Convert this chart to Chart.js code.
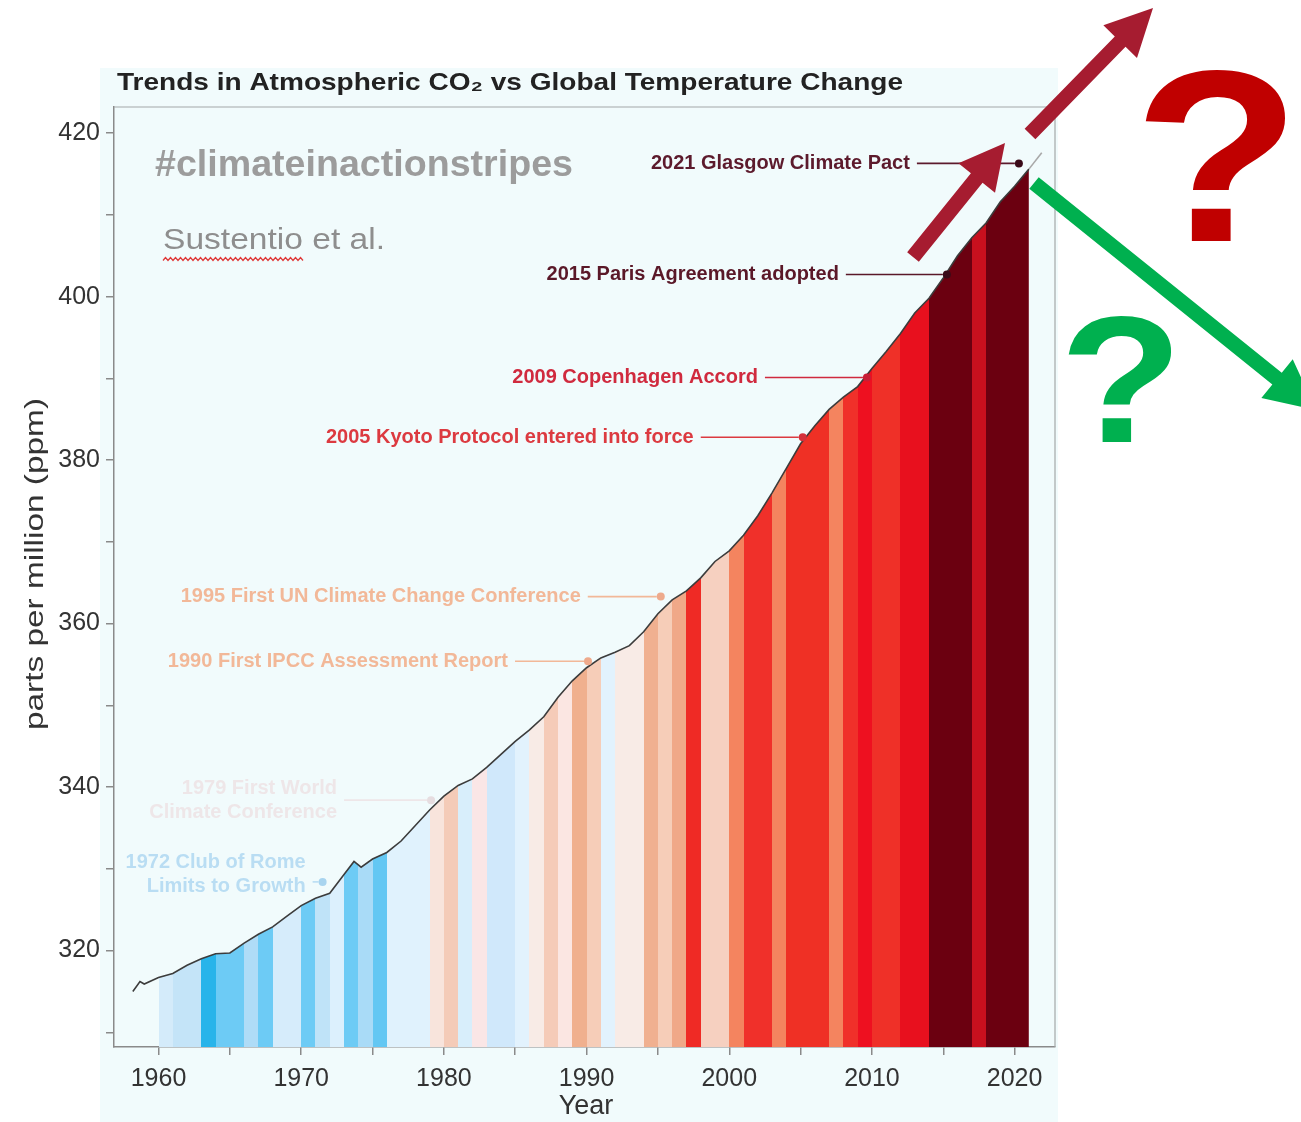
<!DOCTYPE html>
<html>
<head>
<meta charset="utf-8">
<script src="https://cdn.jsdelivr.net/npm/chart.js@4.4.1/dist/chart.umd.min.js"></script>
<style>
  html, body { margin: 0; padding: 0; background: #fff; }
  #wrap { width: 1301px; height: 1122px; position: relative; }
</style>
</head>
<body>
<div id="wrap"><canvas id="co2Chart"></canvas></div>
<script>
// CO2 curve (ppm)
const co2Years = [1958.2, 1958.7, 1959, 1960, 1961, 1962, 1963, 1963.5, 1964, 1965, 1966, 1967, 1968, 1969,
  1970, 1971, 1972, 1973, 1973.7, 1974.2, 1975, 1976, 1977, 1978, 1979,
  1980, 1981, 1982, 1983, 1984, 1985, 1986, 1987, 1988, 1989,
  1990, 1991, 1992, 1993, 1994, 1995, 1996, 1997, 1998, 1999,
  2000, 2001, 2002, 2003, 2004, 2005, 2006, 2007, 2008, 2009,
  2010, 2011, 2012, 2013, 2014, 2015, 2016, 2017, 2018, 2019,
  2020, 2021, 2021.9];
const co2Values = [315.0, 316.2, 315.9, 316.7, 317.2, 318.2, 319.0, 319.3, 319.6, 319.7, 320.9, 322.0, 322.9, 324.2,
  325.5, 326.4, 327.0, 329.3, 330.9, 330.2, 331.2, 332.0, 333.4, 335.3, 337.2,
  338.9, 340.2, 341.0, 342.4, 344.0, 345.6, 347.0, 348.6, 351.0, 353.0,
  354.6, 355.8, 356.5, 357.3, 359.0, 361.2, 362.9, 364.0, 365.6, 367.6,
  368.9, 370.8, 373.2, 376.0, 379.0, 382.0, 384.2, 386.2, 387.7, 389.0,
  391.2, 393.3, 395.5, 398.0, 399.8, 402.3, 405.0, 407.2, 409.0, 411.6,
  413.5, 415.6, 417.6];

// warming stripes, one band per year
const stripeYears = [1960, 1961, 1962, 1963, 1964, 1965, 1966, 1967, 1968, 1969,
  1970, 1971, 1972, 1973, 1974, 1975, 1976, 1977, 1978, 1979,
  1980, 1981, 1982, 1983, 1984, 1985, 1986, 1987, 1988, 1989,
  1990, 1991, 1992, 1993, 1994, 1995, 1996, 1997, 1998, 1999,
  2000, 2001, 2002, 2003, 2004, 2005, 2006, 2007, 2008, 2009,
  2010, 2011, 2012, 2013, 2014, 2015, 2016, 2017, 2018, 2019, 2020];
const stripeColors = [
  '#d4ebfa', '#c4e4f8', '#c4e4f8', '#28b4ea', '#6dcbf5', '#6dcbf5', '#afdcf7', '#6dcbf5', '#d6ecfb', '#d6ecfb',
  '#6dcbf5', '#bfe3f8', '#dcf0fd', '#6dcbf5', '#a9dbf7', '#63c7f3', '#e0f2fd', '#e0f2fd', '#e0f2fd', '#f8e4dc',
  '#f4cbb8', '#d8eefb', '#fae6e6', '#d0e8fb', '#d0e8fb', '#e2f2fd', '#f8ebe6', '#f5cbb8', '#fbe6e2', '#f0b08e',
  '#f6cdb8', '#e2f2fd', '#f8ebe6', '#f8ebe6', '#f0b090', '#f6cdb8', '#f0a888', '#ef2a25', '#f6d0c0', '#f6d0c0',
  '#f4845f', '#f0302a', '#f0302a', '#f4845f', '#ef3025', '#ef3025', '#ef3025', '#f4845f', '#f0302a', '#ee1020',
  '#ef3028', '#ef3028', '#e8101e', '#e8101e', '#6b0010', '#6b0010', '#6b0010', '#c8101e', '#6b0010', '#6b0010', '#6b0010'];

// tick labels
const xTickLabels = [1960, 1970, 1980, 1990, 2000, 2010, 2020];
const yTickLabels = [320, 340, 360, 380, 400, 420];

// policy milestones
const eventLabels = [
  ['2021 Glasgow Climate Pact'],
  ['2015 Paris Agreement adopted'],
  ['2009 Copenhagen Accord'],
  ['2005 Kyoto Protocol entered into force'],
  ['1995 First UN Climate Change Conference'],
  ['1990 First IPCC Assessment Report'],
  ['1979 First World', 'Climate Conference'],
  ['1972 Club of Rome', 'Limits to Growth']
];
const eventYears = [2020.3, 2015.25, 2009.65, 2005.15, 1995.2, 1990.1, 1979.1, 1971.5];
const eventValues = [416.3, 402.7, 390.1, 382.8, 363.3, 355.4, 338.4, 328.4];

// styling for the milestones
const eventColors = ['#5c1a2c', '#5a1828', '#d02a3e', '#dc3a40', '#f2b898', '#f2b898', '#eee6e8', '#b9ddf3'];
const eventDotColors = ['#3a0a18', '#3a0a18', '#c81e36', '#d4303a', '#eeaa8c', '#eeaa8c', '#e6dde0', '#a8d4ef'];
const eventLeader = [109, 108, 109, 109, 80, 80, 94, 17];
const eventTextDy = [0, 0, 0, 0, 0, 0, 0, -7];

const FONT = '"Liberation Sans", Arial, sans-serif';
Chart.defaults.font.family = FONT;

// horizontal gradient with hard stops = the stripes, clipped under the curve by the fill
function stripeFill(context) {
  const chart = context.chart;
  const area = chart.chartArea;
  const xs = chart.scales.x;
  if (!area || !xs) return 'rgba(255,255,255,0)';
  const w = area.right - area.left;
  const off = v => Math.min(1, Math.max(0, (xs.getPixelForValue(v) - area.left) / w));
  const clear = 'rgba(255,255,255,0)';
  const g = chart.ctx.createLinearGradient(area.left, 0, area.right, 0);
  g.addColorStop(0, clear);
  g.addColorStop(off(stripeYears[0]), clear);
  stripeYears.forEach((yr, i) => {
    g.addColorStop(off(yr), stripeColors[i]);
    g.addColorStop(off(yr + 1), stripeColors[i]);
  });
  g.addColorStop(off(stripeYears[stripeYears.length - 1] + 1), clear);
  g.addColorStop(1, clear);
  return g;
}

function fitText(ctx, text, x, y, width) {
  const m = ctx.measureText(text).width;
  ctx.save();
  ctx.translate(x, y);
  ctx.scale(width / m, 1);
  ctx.fillText(text, 0, 0);
  ctx.restore();
}

function arrow(ctx, x0, y0, x1, y1, shaft, headW, headL, color) {
  const len = Math.hypot(x1 - x0, y1 - y0);
  ctx.save();
  ctx.translate(x0, y0);
  ctx.rotate(Math.atan2(y1 - y0, x1 - x0));
  ctx.fillStyle = color;
  ctx.beginPath();
  ctx.moveTo(0, -shaft / 2);
  ctx.lineTo(len - headL, -shaft / 2);
  ctx.lineTo(len - headL, -headW / 2);
  ctx.lineTo(len, 0);
  ctx.lineTo(len - headL, headW / 2);
  ctx.lineTo(len - headL, shaft / 2);
  ctx.lineTo(0, shaft / 2);
  ctx.closePath();
  ctx.fill();
  ctx.restore();
}

function bigQuestion(ctx, x, y, size, sx, color) {
  ctx.save();
  ctx.translate(x, y);
  ctx.scale(sx, 1);
  ctx.fillStyle = color;
  ctx.font = '900 ' + size + 'px ' + FONT;
  ctx.textAlign = 'center';
  ctx.textBaseline = 'alphabetic';
  ctx.fillText('?', 0, 0);
  ctx.restore();
}

const backdrop = {
  id: 'backdrop',
  beforeDraw(chart) {
    const ctx = chart.ctx;
    ctx.save();
    ctx.fillStyle = '#ffffff';
    ctx.fillRect(0, 0, chart.width, chart.height);
    ctx.fillStyle = '#f1fbfc';
    ctx.fillRect(100, 68, 958, chart.height - 68);
    ctx.restore();
  }
};

const decorations = {
  id: 'decorations',
  afterDraw(chart) {
    const ctx = chart.ctx;
    const a = chart.chartArea;
    const xs = chart.scales.x, ys = chart.scales.y;
    ctx.save();

    // rest of the frame
    ctx.strokeStyle = '#a4a8a8';
    ctx.lineWidth = 1.2;
    ctx.beginPath();
    ctx.moveTo(a.left, a.top);
    ctx.lineTo(a.right, a.top);
    ctx.lineTo(a.right, a.bottom);
    ctx.stroke();

    // title
    ctx.textBaseline = 'middle';
    ctx.textAlign = 'left';
    ctx.fillStyle = '#222';
    ctx.font = 'bold 24px ' + FONT;
    fitText(ctx, 'Trends in Atmospheric CO\u2082 vs Global Temperature Change', 117, 83, 786);

    // hashtag and credit
    ctx.fillStyle = '#9c9c9c';
    ctx.font = 'bold 36px ' + FONT;
    fitText(ctx, '#climateinactionstripes', 155, 166, 418);
    ctx.fillStyle = '#8e8e8e';
    ctx.font = '30px ' + FONT;
    fitText(ctx, 'Sustentio et al.', 163, 241, 222);
    // spell-check squiggle
    ctx.strokeStyle = '#e03a3a';
    ctx.lineWidth = 1.3;
    ctx.beginPath();
    for (let x = 163, k = 0; x <= 305; x += 2.5, k++) {
      const y = 259 + (k % 2 ? -1.5 : 1.5);
      if (k === 0) ctx.moveTo(x, y); else ctx.lineTo(x, y);
    }
    ctx.stroke();

    // milestones
    ctx.font = 'bold 20px ' + FONT;
    ctx.textAlign = 'right';
    eventLabels.forEach((lines, i) => {
      const px = xs.getPixelForValue(eventYears[i]);
      const py = ys.getPixelForValue(eventValues[i]);
      const textEnd = px - eventLeader[i];
      const lh = 24;
      const top = py + eventTextDy[i] - (lines.length - 1) * lh / 2;
      ctx.fillStyle = eventColors[i];
      lines.forEach((t, j) => ctx.fillText(t, textEnd, top + j * lh));
      ctx.strokeStyle = eventColors[i];
      ctx.lineWidth = 1.6;
      ctx.beginPath();
      ctx.moveTo(textEnd + 7, py);
      ctx.lineTo(px - 4, py);
      ctx.stroke();
      ctx.fillStyle = eventDotColors[i];
      ctx.beginPath();
      ctx.arc(px, py, 4, 0, Math.PI * 2);
      ctx.fill();
    });

    // axis titles
    ctx.fillStyle = '#333';
    ctx.textAlign = 'center';
    ctx.font = '27px ' + FONT;
    ctx.fillText('Year', 586, 1107);
    ctx.save();
    ctx.translate(36, 564);
    ctx.rotate(-Math.PI / 2);
    ctx.font = '26px ' + FONT;
    ctx.textAlign = 'left';
    const ytw = 332;
    fitText(ctx, 'parts per million (ppm)', -ytw / 2, 0, ytw);
    ctx.restore();

    // arrows and question marks on top
    arrow(ctx, 913, 257, 1005, 143, 15, 47, 45, '#a61c30');
    arrow(ctx, 1030, 134, 1153, 8, 15, 47, 47, '#a61c30');
    arrow(ctx, 1034, 183, 1316, 410, 15, 50, 50, '#00b04f');

    bigQuestion(ctx, 1217, 241, 245, 1.12, '#c00000');
    bigQuestion(ctx, 1121, 442, 180, 1.12, '#00b04f');

    ctx.restore();
  }
};

const co2Points = co2Years.map((yr, i) => ({ x: yr, y: co2Values[i] }));

new Chart(document.getElementById('co2Chart'), {
  type: 'line',
  data: {
    datasets: [{
      label: 'CO2',
      data: co2Points,
      borderColor: '#3c3c3c',
      borderWidth: 1.6,
      pointRadius: 0,
      tension: 0,
      fill: 'start',
      backgroundColor: stripeFill,
      segment: {
        borderColor: c => c.p0.parsed.x >= 2021 ? '#a8a8a8' : undefined
      }
    }]
  },
  options: {
    responsive: true,
    maintainAspectRatio: false,
    animation: false,
    devicePixelRatio: 1,
    layout: { padding: { top: 107, right: 246, left: 0, bottom: 0 } },
    plugins: {
      legend: { display: false },
      tooltip: { enabled: false }
    },
    scales: {
      x: {
        type: 'linear',
        min: 1956.88,
        max: 2022.83,
        afterFit: s => { s.height = 75; },
        ticks: {
          stepSize: 5,
          includeBounds: false,
          autoSkip: false,
          maxRotation: 0,
          padding: 9,
          color: '#333',
          font: { size: 25 },
          callback: v => xTickLabels.includes(v) ? String(v) : ''
        },
        grid: { drawOnChartArea: false, drawTicks: true, tickLength: 8, color: '#8a8a8a', lineWidth: 1.5 },
        border: { color: '#8a8a8a', width: 1.5 }
      },
      y: {
        min: 308.2,
        max: 423.2,
        afterFit: s => { s.width = 114; },
        ticks: {
          stepSize: 10,
          includeBounds: false,
          autoSkip: false,
          padding: 6,
          color: '#333',
          font: { size: 25 },
          callback: v => yTickLabels.includes(v) ? String(v) : ''
        },
        grid: { drawOnChartArea: false, drawTicks: true, tickLength: 8, color: '#8a8a8a', lineWidth: 1.5 },
        border: { color: '#8a8a8a', width: 1.5 }
      }
    }
  },
  plugins: [backdrop, decorations]
});
</script>
</body>
</html>
